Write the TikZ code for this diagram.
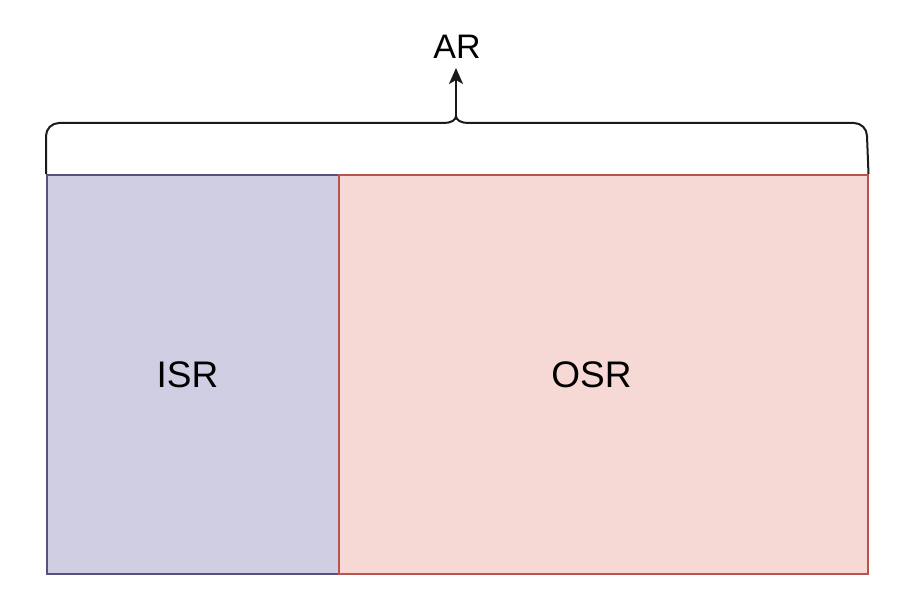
\documentclass[tikz,border=0pt]{standalone}
\usepackage{fontspec}
\setmainfont{Liberation Sans}
\usetikzlibrary{arrows.meta}
\definecolor{isrfill}{HTML}{D0CEE2}
\definecolor{isrdraw}{HTML}{56517E}
\definecolor{osrfill}{HTML}{F6D8D5}
\definecolor{osrdraw}{HTML}{B85450}
\definecolor{bracecol}{HTML}{1A1A1A}
\tikzset{
  region/.style={draw, line width=1.5pt, minimum width=#1, inner sep=0pt, minimum height=399pt, anchor=north west},
  lbl/.style={font=\fontsize{37}{40}\selectfont, text=black, inner sep=0pt, anchor=base},
  brace/.style={draw=bracecol, line width=2pt, line join=round}
}
\begin{document}
\begin{tikzpicture}[x=1pt,y=-1pt]
\useasboundingbox (0,0) rectangle (906,602);
\node[region=292pt, fill=isrfill, draw=isrdraw] (isr) at (46,174) {};
\node[region=529pt, fill=osrfill, draw=osrdraw] (osr) at (338,174) {};
\node[lbl] (isrl) at (187.5,387) {ISR};
\node[lbl] (osrl) at (591.5,387) {OSR};
\node[lbl, font=\fontsize{34}{36}\selectfont] (ar) at (457,59) {AR};
\coordinate (tip) at (456,116);
\path[brace] (isr.north west) -- (46,136) to[out=90,in=180] (59,123) -- (444,123)
   .. controls (451,123) and (456,120) .. (tip)
   .. controls (456,120) and (461,123) .. (468,123) -- (854,123)
   to[out=0,in=90] (867,136) -- (osr.north east);
\draw[brace, -{Stealth[length=16pt,width=14pt,inset=4pt]}] (tip) -- (456,68) coordinate (arrowend);
\end{tikzpicture}
\end{document}
